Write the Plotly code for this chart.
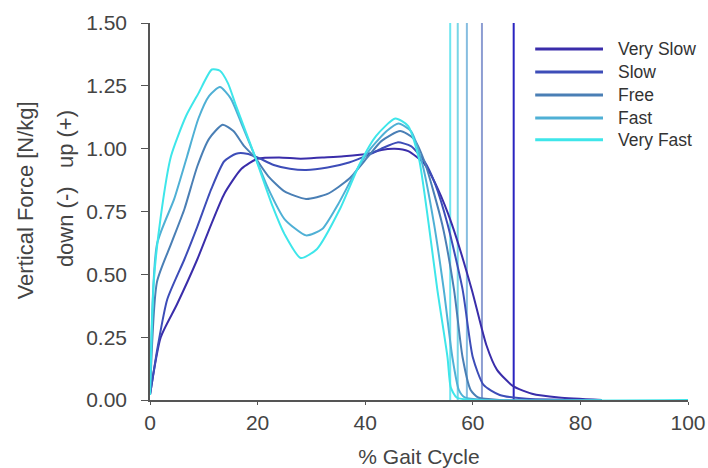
import plotly.graph_objects as go

series_names = ["Very Slow", "Slow", "Free", "Fast", "Very Fast"]

vs_x = [0, 2, 5, 8.8, 11.4, 13.8, 17, 20, 24, 28, 32, 36, 40.6, 43, 45.5, 48, 51, 53.5, 56.1, 59.8, 62.5, 64.5, 67.5, 71, 76, 84]
vs_y = [0.02, 0.25, 0.38, 0.56, 0.70, 0.82, 0.92, 0.96, 0.965, 0.96, 0.965, 0.97, 0.98, 0.995, 1.00, 0.99, 0.94, 0.84, 0.70, 0.44, 0.22, 0.12, 0.055, 0.025, 0.01, 0]

s_x = [0, 1.5, 3.2, 6.4, 8.8, 11.4, 13.8, 16, 18, 20, 23, 26, 29, 33, 37, 40.6, 43, 46, 48.5, 51, 53, 55.3, 58.1, 60, 62, 65, 70, 84]
s_y = [0.02, 0.22, 0.40, 0.56, 0.69, 0.84, 0.95, 0.98, 0.98, 0.965, 0.935, 0.92, 0.915, 0.925, 0.945, 0.975, 1.00, 1.025, 1.01, 0.95, 0.86, 0.70, 0.44, 0.17, 0.06, 0.02, 0.005, 0]

fr_x = [0, 1.3, 3.9, 6.4, 8.8, 11, 13.5, 15.5, 17.5, 19.5, 22, 25, 29, 33, 37, 40.6, 43, 46.5, 49, 51, 54.3, 56.5, 58.1, 59.6, 61, 65, 84]
fr_y = [0.02, 0.47, 0.62, 0.76, 0.93, 1.04, 1.095, 1.07, 1.01, 0.965, 0.89, 0.83, 0.80, 0.82, 0.88, 0.97, 1.03, 1.07, 1.04, 0.95, 0.70, 0.44, 0.17, 0.04, 0.01, 0, 0]

f_x = [0, 1.3, 4.5, 6.9, 9, 11, 13, 15, 17, 19.5, 22, 25, 29, 32, 35, 38, 41, 44, 46.2, 48.5, 50.5, 52.8, 54.6, 56.2, 57.4, 58.5, 62, 84]
f_y = [0.02, 0.62, 0.80, 0.97, 1.12, 1.21, 1.245, 1.20, 1.10, 0.97, 0.84, 0.72, 0.655, 0.68, 0.78, 0.90, 1.00, 1.07, 1.10, 1.07, 0.95, 0.70, 0.44, 0.17, 0.04, 0.01, 0, 0]

vf_x = [0, 0.7, 2, 3.9, 6.7, 9, 11.5, 13, 14.5, 16, 19.5, 22.8, 25, 28, 31, 35.3, 39, 42, 45.6, 48, 50, 51.8, 53.4, 55.3, 55.9, 57, 60, 100]
vf_y = [0.02, 0.47, 0.73, 0.97, 1.13, 1.22, 1.315, 1.31, 1.26, 1.17, 0.97, 0.77, 0.66, 0.565, 0.60, 0.76, 0.94, 1.05, 1.12, 1.09, 0.96, 0.70, 0.44, 0.17, 0.05, 0.01, 0, 0]

toe_off = [67.6, 61.7, 58.9, 57.2, 55.8]

xs = [vs_x, s_x, fr_x, f_x, vf_x]
ys = [vs_y, s_y, fr_y, f_y, vf_y]

colors = ["#3a2daa", "#3d4db8", "#4a7fb5", "#4fb0d5", "#3ee6ea"]
vcolors = ["#2a24c0", "#8d9dd2", "#86bde0", "#78d6e6", "#6ee6f0"]

FONT = "Liberation Sans, Arial"

fig = go.Figure()

for i, name in enumerate(series_names):
    fig.add_trace(go.Scatter(
        x=[toe_off[i], toe_off[i]], y=[0, 1.5], mode="lines",
        line=dict(color=vcolors[i], width=2), showlegend=False, hoverinfo="skip"))

for i, name in enumerate(series_names):
    fig.add_trace(go.Scatter(
        x=xs[i], y=ys[i], mode="lines", name=name,
        line=dict(color=colors[i], width=2, shape="spline", smoothing=0.6),
        showlegend=False))

# manual legend (long line samples as in reference)
leg_y = [0.931, 0.870, 0.809, 0.748, 0.690]
for i, name in enumerate(series_names):
    fig.add_shape(type="line", xref="paper", yref="paper",
                  x0=0.716, x1=0.842, y0=leg_y[i], y1=leg_y[i],
                  line=dict(color=colors[i], width=3))
    fig.add_annotation(xref="paper", yref="paper", x=0.866, y=leg_y[i],
                       text=name, showarrow=False, xanchor="left", yanchor="middle",
                       font=dict(family=FONT, size=17.5, color="#333333"))

fig.add_annotation(xref="paper", yref="paper", x=-0.232, y=0.53, xanchor="center", yanchor="middle",
                   text="Vertical Force [N/kg]", textangle=-90, showarrow=False,
                   font=dict(family=FONT, size=22, color="#444444"))
fig.add_annotation(xref="paper", yref="paper", x=-0.158, y=0.562, xanchor="center", yanchor="middle",
                   text="down (-)\u00a0\u00a0\u00a0up (+)", textangle=-90, showarrow=False,
                   font=dict(family=FONT, size=22, color="#444444"))

axis_common = dict(showgrid=False, zeroline=False, showline=True, linecolor="#555555",
                   linewidth=1.5, ticks="outside", tickcolor="#555555", automargin=False,
                   tickfont=dict(family=FONT, size=21, color="#444444"))

fig.update_xaxes(range=[0, 100], tickvals=[0, 20, 40, 60, 80, 100], ticklen=3,
                 title=dict(text="% Gait Cycle", standoff=16,
                            font=dict(family=FONT, size=21, color="#444444")),
                 **axis_common)
fig.update_yaxes(range=[0, 1.5], tickvals=[0, 0.25, 0.5, 0.75, 1.0, 1.25, 1.5], tickformat=".2f",
                 ticklen=7, ticklabelstandoff=10, **axis_common)

fig.update_layout(width=708, height=468, margin=dict(l=150, r=20, t=23, b=68),
                  plot_bgcolor="white", paper_bgcolor="white", showlegend=False)

fig.write_html("out.html", config={"displayModeBar": False},
               post_script="document.body.style.margin='0';document.body.style.overflow='hidden';")
